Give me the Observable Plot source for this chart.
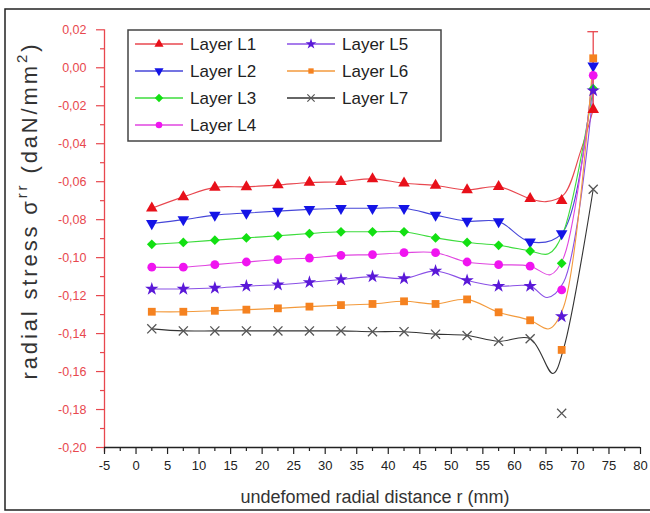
<!DOCTYPE html>
<html>
<head>
<meta charset="utf-8">
<script src="https://cdn.jsdelivr.net/npm/d3@7"></script>
<script src="https://cdn.jsdelivr.net/npm/@observablehq/plot@0.6"></script>
<style>
  html, body { margin: 0; padding: 0; background: #fff; }
  #chart { width: 650px; height: 513px; overflow: hidden; }
</style>
</head>
<body>
<div id="chart"></div>
<script>
// ---- data ----
const r = [2.5, 7.5, 12.5, 17.5, 22.5, 27.5, 32.5, 37.5, 42.5, 47.5, 52.5, 57.5, 62.5, 67.5, 72.5];
const L1 = [-0.074, -0.068, -0.063, -0.0627, -0.0617, -0.0604, -0.060, -0.0585, -0.0608, -0.062, -0.0643, -0.0626, -0.069, -0.070, -0.022];
const L2 = [-0.082, -0.080, -0.0776, -0.0765, -0.0755, -0.0746, -0.074, -0.074, -0.074, -0.0776, -0.0808, -0.081, -0.0917, -0.0873, 0.001];
const L3 = [-0.093, -0.092, -0.0908, -0.0896, -0.0885, -0.0873, -0.0864, -0.0864, -0.0864, -0.0896, -0.092, -0.0935, -0.0965, -0.103, -0.011];
const L4 = [-0.105, -0.105, -0.1037, -0.1023, -0.101, -0.1002, -0.0988, -0.0984, -0.0974, -0.0974, -0.1023, -0.1037, -0.1045, -0.117, -0.004];
const L5 = [-0.1165, -0.1165, -0.116, -0.115, -0.1143, -0.113, -0.1115, -0.110, -0.111, -0.107, -0.112, -0.115, -0.115, -0.131, -0.012];
const L6 = [-0.1285, -0.1285, -0.128, -0.1274, -0.1267, -0.1258, -0.125, -0.1244, -0.123, -0.1244, -0.122, -0.1288, -0.133, -0.1486, 0.005];
const L7 = [-0.1375, -0.1386, -0.1386, -0.1386, -0.1386, -0.1386, -0.1386, -0.139, -0.139, -0.1403, -0.141, -0.144, -0.1427, -0.182, -0.064];

// smoothed curve tails (after r = 62.5) as drawn in the reference
const tailR1 = [65, 67.8, 70.5, 72.5], tailV1 = [-0.0705, -0.067, -0.044, -0.022];
const tailR2 = [67.5, 72.5],           tailV2 = [-0.0873, 0.001];
const tailR3 = [65.4, 67.6, 72.5],     tailV3 = [-0.098, -0.088, -0.011];
const tailR4 = [65.7, 67.8, 72.5],     tailV4 = [-0.109, -0.100, -0.004];
const tailR5 = [65.2, 67.8, 72.5],     tailV5 = [-0.121, -0.113, -0.012];
const tailR6 = [65.5, 67.8, 72.5],     tailV6 = [-0.1375, -0.126, 0.005];
const tailR7 = [66.1, 67.8, 72.5],     tailV7 = [-0.161, -0.148, -0.064];

const names = ["Layer L1", "Layer L2", "Layer L3", "Layer L4", "Layer L5", "Layer L6", "Layer L7"];
const errR = 72.5, errLow = -0.022, errHigh = 0.019;

const yMajor = [-0.20, -0.18, -0.16, -0.14, -0.12, -0.10, -0.08, -0.06, -0.04, -0.02, 0.00, 0.02];
const yMinor = [-0.19, -0.17, -0.15, -0.13, -0.11, -0.09, -0.07, -0.05, -0.03, -0.01, 0.01];
const xMajor = [-5, 0, 5, 10, 15, 20, 25, 30, 35, 40, 45, 50, 55, 60, 65, 70, 75, 80];
const xMinor = [-2.5, 2.5, 7.5, 12.5, 17.5, 22.5, 27.5, 32.5, 37.5, 42.5, 47.5, 52.5, 57.5, 62.5, 67.5, 72.5, 77.5];

// ---- styles ----
const triDown = {
  draw(ctx, size) {
    const y = Math.sqrt(size / (Math.sqrt(3) * 3));
    ctx.moveTo(0, 2 * y);
    ctx.lineTo(-Math.sqrt(3) * y, -y);
    ctx.lineTo(Math.sqrt(3) * y, -y);
    ctx.closePath();
  }
};
const series = [
  {vals: L1, tr: tailR1, tv: tailV1, line: "#e8474f", mark: "#e8101a", sym: "triangle", d3sym: d3.symbolTriangle, r: 4.3, lr: 3.4},
  {vals: L2, tr: tailR2, tv: tailV2, line: "#4646d8", mark: "#1414e6", sym: triDown, d3sym: triDown, r: 4.3, lr: 3.4},
  {vals: L3, tr: tailR3, tv: tailV3, line: "#3ddc3d", mark: "#12e012", sym: "diamond2", d3sym: d3.symbolDiamond2, r: 4.4, lr: 3.8},
  {vals: L4, tr: tailR4, tv: tailV4, line: "#e046e0", mark: "#f014f0", sym: "circle", d3sym: d3.symbolCircle, r: 4.4, lr: 3.3},
  {vals: L5, tr: tailR5, tv: tailV5, line: "#8a50e6", mark: "#5a18d8", sym: "star", d3sym: d3.symbolStar, r: 4.2, lr: 3.4},
  {vals: L6, tr: tailR6, tv: tailV6, line: "#f39a3c", mark: "#f58220", sym: "square", d3sym: d3.symbolSquare, r: 4.4, lr: 3.0},
  {vals: L7, tr: tailR7, tv: tailV7, line: "#333333", mark: "#555555", sym: "times", d3sym: d3.symbolTimes, r: 4.2, lr: 3.4}
];

const red = "#e8474e";
const fmt = v => (v < -1e-9 ? "-" : "") + Math.abs(v).toFixed(2).replace(".", ",");

const marks = [];
// curves
series.forEach(s => {
  const pts = r.slice(0, 13).map((x, i) => ({x, y: s.vals[i]}))
    .concat(s.tr.map((x, i) => ({x, y: s.tv[i]})));
  marks.push(Plot.line(pts, {x: "x", y: "y", stroke: s.line, strokeWidth: 1.1, curve: "catmull-rom"}));
});
// error bar
marks.push(Plot.ruleX([{x: errR, lo: errLow, hi: errHigh}], {x: "x", y1: "lo", y2: "hi", stroke: red, strokeWidth: 1.3}));
marks.push(Plot.ruleY([{x: errR, hi: errHigh}], {y: "hi", x1: d => d.x - 0.85, x2: d => d.x + 0.85, stroke: red, strokeWidth: 1.3}));
// markers
series.forEach(s => {
  const pts = r.map((x, i) => ({x, y: s.vals[i]}));
  if (s.sym === "times") {
    marks.push(Plot.dot(pts, {x: "x", y: "y", symbol: "times", stroke: s.mark, strokeWidth: 1.3, r: s.r}));
  } else {
    marks.push(Plot.dot(pts, {x: "x", y: "y", symbol: s.sym, fill: s.mark, stroke: "none", r: s.r}));
  }
});
// axes
marks.push(Plot.ruleX([-5], {y1: -0.2025, y2: 0.02, stroke: red, strokeWidth: 1.3}));
marks.push(Plot.ruleY([-0.2], {x1: -5, x2: 80, stroke: "#222", strokeWidth: 1.3}));
marks.push(Plot.axisY(yMajor, {tickSize: 8, tickPadding: 10, stroke: red, color: red, fill: red, fontSize: 12.5, tickFormat: fmt, label: null, strokeWidth: 1.2}));
marks.push(Plot.axisY(yMinor, {tickSize: 4, stroke: red, tickFormat: () => "", label: null, strokeWidth: 1.2}));
marks.push(Plot.axisX(xMajor, {tickSize: 7, tickPadding: 6, stroke: "#222", fill: "#222", fontSize: 13, tickFormat: d => String(d), label: null, strokeWidth: 1.2, fontFamily: "Liberation Sans Narrow, Liberation Sans, Arial, sans-serif"}));
marks.push(Plot.axisX(xMinor, {tickSize: 4, stroke: "#222", tickFormat: () => "", label: null, strokeWidth: 1.2}));

const plot = Plot.plot({
  width: 650, height: 513,
  marginLeft: 104, marginRight: 10, marginTop: 29.3, marginBottom: 66,
  x: {domain: [-5, 80]},
  y: {domain: [-0.20, 0.02]},
  style: {fontFamily: "Liberation Sans, Arial, sans-serif", background: "#fff"},
  marks
});
document.getElementById("chart").appendChild(plot);

// ---- frame, titles, legend ----
const svg = d3.select(plot);
svg.append("rect").attr("x", 5).attr("y", 9).attr("width", 720).attr("height", 501)
  .attr("fill", "none").attr("stroke", "#222").attr("stroke-width", 1.5);

svg.append("text")
  .attr("x", 375).attr("y", 503).attr("text-anchor", "middle")
  .attr("font-size", 18).attr("fill", "#333")
  .text("undefomed radial distance r (mm)");

const yt = svg.append("text")
  .attr("transform", "translate(37,212) rotate(-90)")
  .attr("text-anchor", "middle").attr("font-size", 22).attr("fill", "#333")
  .attr("textLength", 335).attr("lengthAdjust", "spacing");
yt.append("tspan").text("radial stress σ");
yt.append("tspan").attr("dy", -10).attr("font-size", 15).text("rr");
yt.append("tspan").attr("dy", 10).text(" (daN/mm");
yt.append("tspan").attr("dy", -10).attr("font-size", 15).text("2");
yt.append("tspan").attr("dy", 10).text(")");

const lg = svg.append("g").attr("text-anchor", "start");
lg.append("rect").attr("x", 128).attr("y", 30).attr("width", 313).attr("height", 111)
  .attr("fill", "#fff").attr("stroke", "#444").attr("stroke-width", 1.5);
const pos = [[135, 44], [135, 71], [135, 98], [135, 125], [287, 44], [287, 71], [287, 98]];
series.forEach((s, i) => {
  const [x0, y0] = pos[i];
  lg.append("line").attr("x1", x0).attr("x2", x0 + 48).attr("y1", y0).attr("y2", y0)
    .attr("stroke", s.line).attr("stroke-width", 1.3);
  const p = d3.symbol().type(s.d3sym).size(Math.PI * s.lr * s.lr)();
  const m = lg.append("path").attr("d", p).attr("transform", `translate(${x0 + 24},${y0})`);
  if (s.sym === "times") m.attr("fill", "none").attr("stroke", s.mark).attr("stroke-width", 1.2);
  else m.attr("fill", s.mark);
  lg.append("text").attr("x", x0 + 55).attr("y", y0 + 6).attr("text-anchor", "start")
    .attr("font-size", 17).attr("fill", "#222").text(names[i]);
});
</script>
</body>
</html>
